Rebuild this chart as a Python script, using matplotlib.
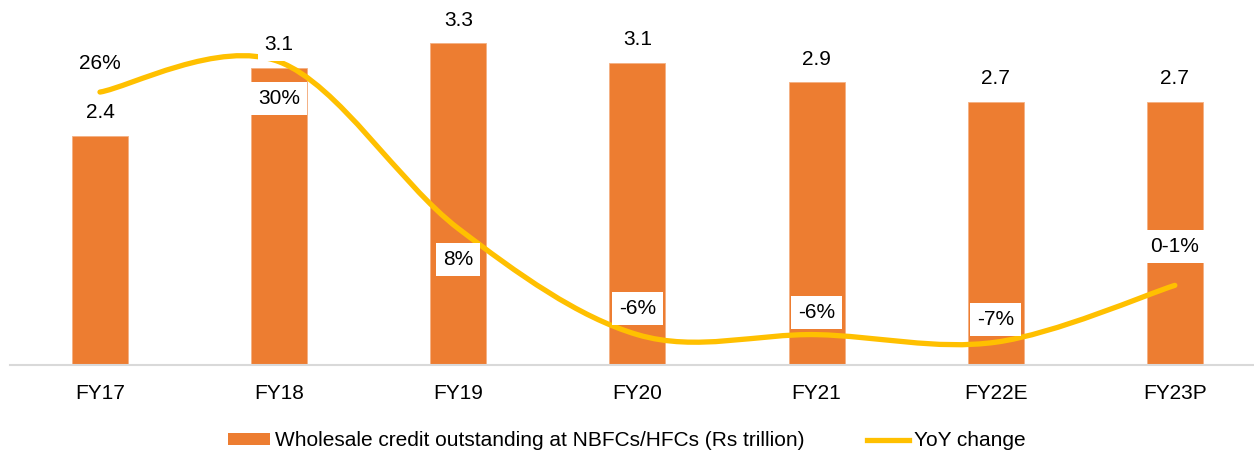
import matplotlib
matplotlib.use("Agg")
import matplotlib.pyplot as plt
import numpy as np
from matplotlib.path import Path
from matplotlib.patches import PathPatch
from matplotlib.lines import Line2D
from matplotlib.patches import Patch

plt.rcParams['font.family'] = ['Liberation Sans', 'DejaVu Sans']

years = ["FY17", "FY18", "FY19", "FY20", "FY21", "FY22E", "FY23P"]
credit = [2.35, 3.05, 3.3, 3.1, 2.9, 2.7, 2.7]
credit_labels = ["2.4", "3.1", "3.3", "3.1", "2.9", "2.7", "2.7"]
yoy = [26, 30, 8, -6, -6, -7, 0.5]
yoy_labels = ["26%", "30%", "8%", "-6%", "-6%", "-7%", "0-1%"]
# pixel offset of each growth label from its point (+ is up)
yoy_offsets = [29, -37, -31, 26, 22, 23, 39]

bar_col = "#ED7D31"
line_col = "#FFC000"
fs = 15

fig = plt.figure(figsize=(12.54, 4.5), dpi=100)
ax = fig.add_axes([0.0083, 0.189, 1.0, 0.758])
x = np.arange(len(years))
ax.bar(x, credit, width=0.3125, color=bar_col, edgecolor="#F4B183", linewidth=0.6, zorder=2)
ax.set_xlim(-0.5, 6.5)
ax.set_ylim(0, 3.5)
ax.set_xticks(x)
ax.set_xticklabels(years, fontsize=fs)
ax.tick_params(axis="x", length=0, pad=14)
ax.set_yticks([])
for s in ["top", "right", "left"]:
    ax.spines[s].set_visible(False)
ax.spines["bottom"].set_color("#D9D9D9")
ax.spines["bottom"].set_linewidth(1.5)

ax2 = ax.twinx()
ax2.set_ylim(-10, 35)
ax2.set_yticks([])
for s in ax2.spines.values():
    s.set_visible(False)

# smoothed line (bezier through the points, like the spreadsheet's smooth line)
pts = np.column_stack([x, yoy]).astype(float)
ext = np.vstack([pts[0], pts, pts[-1]])
verts = [tuple(pts[0])]
codes = [Path.MOVETO]
for i in range(len(pts) - 1):
    p0, p1, p2, p3 = ext[i], ext[i + 1], ext[i + 2], ext[i + 3]
    c1 = p1 + (p2 - p0) / 6
    c2 = p2 - (p3 - p1) / 6
    verts += [tuple(c1), tuple(c2), tuple(p2)]
    codes += [Path.CURVE4] * 3
ax2.add_patch(PathPatch(Path(verts, codes), facecolor="none", edgecolor=line_col,
                        lw=3.8, capstyle="round", zorder=3))

box = dict(facecolor="white", edgecolor="none", pad=5)
for i, (v, lab) in enumerate(zip(credit, credit_labels)):
    ax2.annotate(lab, xy=(i, v), xycoords=ax.transData, xytext=(0, 23),
                 textcoords="offset pixels", ha="center", va="center", fontsize=fs,
                 bbox=box, zorder=4)
for i, (v, lab, off) in enumerate(zip(yoy, yoy_labels, yoy_offsets)):
    ax2.annotate(lab, xy=(i, v), xytext=(0, off), textcoords="offset pixels",
                 ha="center", va="center", fontsize=fs, bbox=box, zorder=4)

handles = [Patch(facecolor=bar_col, edgecolor="none"),
           Line2D([0], [0], color=line_col, lw=3.8)]
fig.legend(handles, ["Wholesale credit outstanding at NBFCs/HFCs (Rs trillion)", "YoY change"],
           loc="center", bbox_to_anchor=(0.5, 0.02), ncol=2, frameon=False, fontsize=fs,
           handlelength=2.0, handleheight=0.45, handletextpad=0.25, columnspacing=3.0)

fig.savefig("out.png", dpi=100)
